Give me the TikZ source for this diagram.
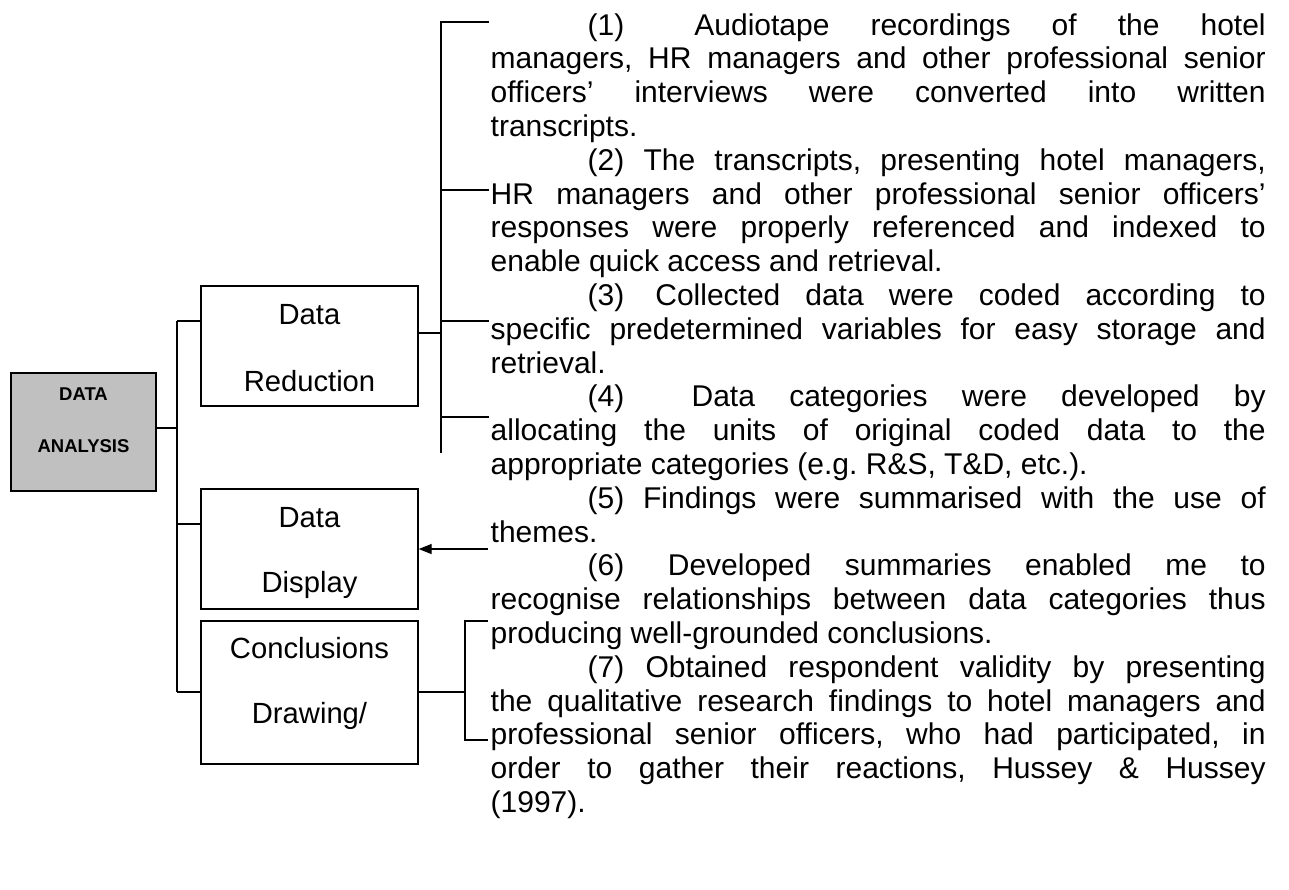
\documentclass[tikz,border=0pt]{standalone}
\usepackage{fontspec}
\setmainfont{Liberation Sans}
\usetikzlibrary{arrows.meta}

% a justified line of the notes (all interword spaces stretch equally)
\newcommand\jline[1]{\hbox to 775pt{\frenchspacing\spaceskip=\fontdimen2\font plus 1fil minus 1pt\relax #1}}
% the closing line of a paragraph, set at natural width
\newcommand\lastline[1]{\hbox{\frenchspacing #1}}
% first-line indent of each numbered step
\newcommand\ind{\hspace*{97pt}}

\begin{document}
\begin{tikzpicture}[x=1pt,y=-1pt,
  line width=1.4pt,
  box/.style={draw, line width=1.4pt, rectangle, inner sep=0pt},
  lbl/.style={anchor=base, inner sep=0pt, font=\fontsize{29.2}{31}\selectfont},
  mainlbl/.style={anchor=base, inner sep=0pt, font=\fontsize{18.5}{20}\selectfont\bfseries},
  tip/.style={-{Triangle[length=13pt,width=10pt]}}
]
\useasboundingbox (0,0) rectangle (1289,889);

% ---- boxes ----
\node[box, fill={rgb,255:red,192;green,192;blue,192},
      minimum width=145pt, minimum height=118pt] (da) at (83.5,432) {};
\node[box, minimum width=217pt, minimum height=120pt] (red) at (309.5,346) {};
\node[box, minimum width=217pt, minimum height=120pt] (dis) at (309.5,549) {};
\node[box, minimum width=217pt, minimum height=143pt] (con) at (309.5,692.5) {};

% ---- box captions ----
\node[mainlbl] (daA) at (83.5,400) {DATA};
\node[mainlbl] (daB) at (83.5,452) {ANALYSIS};
\node[lbl] (redA) at (309.5,324) {Data};
\node[lbl] (redB) at (309.5,391) {Reduction};
\node[lbl] (disA) at (309.5,527) {Data};
\node[lbl] (disB) at (309.5,592) {Display};
\node[lbl] (conA) at (309.5,658) {Conclusions};
\node[lbl] (conB) at (309.5,723) {Drawing/};

% ---- trunk from DATA ANALYSIS to the three stages ----
\coordinate (tA)   at (177,428);
\coordinate (tTop) at (177,321);
\coordinate (tMid) at (177,524);
\coordinate (tBot) at (177,692);
\draw ([yshift=4pt]da.east) -- (tA);
\draw (tTop) -- (tBot);
\draw (tTop) -- (tTop -| red.west);
\draw (tMid) -- (tMid -| dis.west);
\draw (tBot) -- (tBot -| con.west);

% ---- bracket of the data reduction steps ----
\coordinate (rJ)   at (441,333);
\coordinate (rTop) at (441,22);
\coordinate (rBot) at (441,453);
\coordinate (s1) at (489,22);
\coordinate (s2) at (489,190);
\coordinate (s3) at (489,321);
\coordinate (s4) at (489,417);
\draw (rJ -| red.east) -- (rJ);
\draw (s1) -- (rTop) -- (rBot);
\draw (s2) -- (s2 -| rTop);
\draw (s3) -- (s3 -| rTop);
\draw (s4) -- (s4 -| rTop);

% ---- step 5 feeds the data display ----
\coordinate (s5) at (488,549);
\draw[tip] (s5) -- (dis.east);

% ---- bracket of the conclusion steps ----
\coordinate (cJ)   at (465,692);
\coordinate (cTop) at (465,621);
\coordinate (cBot) at (465,740);
\coordinate (s6) at (488,621);
\coordinate (s7) at (488,740);
\draw (cJ -| con.east) -- (cJ);
\draw (s6) -- (cTop) -- (cBot) -- (s7);

% ---- notes on the steps ----
\node[anchor=base west, inner sep=0pt] (notes) at (490,35) {%
  \fontsize{30}{33.8}\selectfont
  \vtop{\baselineskip=33.8pt
  \jline{\ind(1)\hspace{29pt} Audiotape recordings of the hotel}
  \jline{managers, HR managers and other professional senior}
  \jline{officers’ interviews were converted into written}
  \lastline{transcripts.}
  \jline{\ind(2) The transcripts, presenting hotel managers,}
  \jline{HR managers and other professional senior officers’}
  \jline{responses were properly referenced and indexed to}
  \lastline{enable quick access and retrieval.}
  \jline{\ind(3)\hspace{6pt} Collected data were coded according to}
  \jline{specific predetermined variables for easy storage and}
  \lastline{retrieval.}
  \jline{\ind(4)\hspace{33pt} Data categories were developed by}
  \jline{allocating the units of original coded data to the}
  \lastline{appropriate categories (e.g. R\&S, T\&D, etc.).}
  \jline{\ind(5) Findings were summarised with the use of}
  \lastline{themes.}
  \jline{\ind(6)\hspace{10pt} Developed summaries enabled me to}
  \jline{recognise relationships between data categories thus}
  \lastline{producing well-grounded conclusions.}
  \jline{\ind(7) Obtained respondent validity by presenting}
  \jline{the qualitative research findings to hotel managers and}
  \jline{professional senior officers, who had participated, in}
  \jline{order to gather their reactions, Hussey \& Hussey}
  \lastline{(1997).}
  }};
\end{tikzpicture}
\end{document}
